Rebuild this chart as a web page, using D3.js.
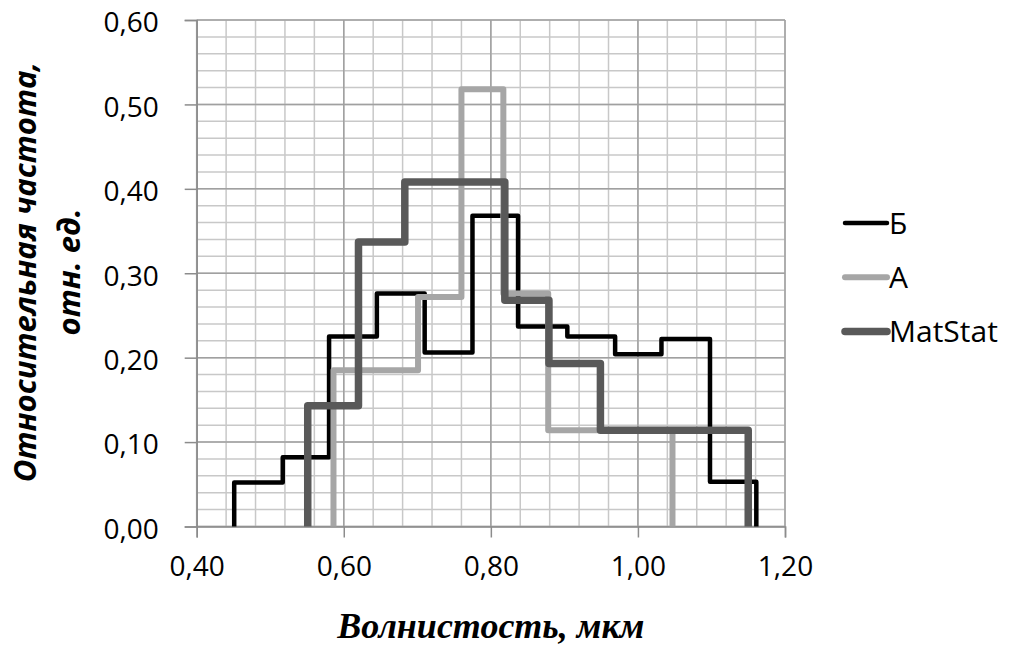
<!DOCTYPE html>
<html>
<head>
<meta charset="utf-8">
<script src="https://cdn.jsdelivr.net/npm/d3@7"></script>
<style>
  body { margin: 0; background: #fff; }
  svg { display: block; }
</style>
</head>
<body>
<div id="chart"></div>
<script>
// bin edges and relative frequencies
var edgesB = [0.451, 0.517, 0.580, 0.645, 0.710, 0.775, 0.837, 0.904, 0.969, 1.032, 1.098, 1.161];
var valuesB = [0.052, 0.082, 0.225, 0.276, 0.206, 0.368, 0.237, 0.225, 0.204, 0.222, 0.053];

var edgesA = [0.586, 0.701, 0.760, 0.817, 0.878, 1.047];
var valuesA = [0.185, 0.272, 0.518, 0.276, 0.114];

var edgesM = [0.551, 0.620, 0.683, 0.819, 0.879, 0.949, 1.150];
var valuesM = [0.143, 0.337, 0.408, 0.268, 0.193, 0.114];

var seriesNames = ["Б", "A", "MatStat"];
var xTicks = [0.4, 0.6, 0.8, 1.0, 1.2];
var yTicks = [0, 0.1, 0.2, 0.3, 0.4, 0.5, 0.6];

var width = 1010, height = 656;
var margin = {left: 196.7, right: 225, top: 20, bottom: 129.5};

var svg = d3.select("#chart").append("svg")
    .attr("width", width)
    .attr("height", height);

var x = d3.scaleLinear().domain([0.4, 1.2]).range([margin.left, width - margin.right]);
var y = d3.scaleLinear().domain([0, 0.6]).range([height - margin.bottom, margin.top]);

var fmt = function(d) { return d3.format(".2f")(d).replace(".", ","); };

// minor grid
var minorX = d3.range(0.4, 1.2001, 0.04);
var minorY = d3.range(0, 0.6001, 0.02);

svg.append("g").selectAll("line")
    .data(minorX)
  .enter().append("line")
    .attr("x1", function(d) { return x(d); })
    .attr("x2", function(d) { return x(d); })
    .attr("y1", y(0)).attr("y2", y(0.6))
    .attr("stroke", "#c8c8c8").attr("stroke-width", 1.5);

svg.append("g").selectAll("line")
    .data(minorY)
  .enter().append("line")
    .attr("y1", function(d) { return y(d); })
    .attr("y2", function(d) { return y(d); })
    .attr("x1", x(0.4)).attr("x2", x(1.2))
    .attr("stroke", "#c8c8c8").attr("stroke-width", 1.5);

// major grid
svg.append("g").selectAll("line")
    .data(xTicks)
  .enter().append("line")
    .attr("x1", function(d) { return x(d); })
    .attr("x2", function(d) { return x(d); })
    .attr("y1", y(0)).attr("y2", y(0.6))
    .attr("stroke", "#a0a0a0").attr("stroke-width", 1.5);

svg.append("g").selectAll("line")
    .data(yTicks)
  .enter().append("line")
    .attr("y1", function(d) { return y(d); })
    .attr("y2", function(d) { return y(d); })
    .attr("x1", x(0.4)).attr("x2", x(1.2))
    .attr("stroke", "#a0a0a0").attr("stroke-width", 1.5);

// axes
var xAxis = svg.append("g")
    .attr("transform", "translate(0," + y(0) + ")")
    .call(d3.axisBottom(x).tickValues(xTicks).tickSize(11).tickFormat(fmt));

var yAxis = svg.append("g")
    .attr("transform", "translate(" + x(0.4) + ",0)")
    .call(d3.axisLeft(y).tickValues(yTicks).tickSize(12).tickFormat(fmt));

[xAxis, yAxis].forEach(function(ax) {
  ax.select(".domain").attr("stroke", "#8c8c8c").attr("stroke-width", 1.5);
  ax.selectAll(".tick line").attr("stroke", "#8c8c8c").attr("stroke-width", 1.5);
  ax.selectAll(".tick text")
    .style("font-family", "'Open Sans', sans-serif")
    .style("font-size", "28px")
    .attr("fill", "#000");
});

xAxis.selectAll(".tick text").attr("y", 30).attr("dy", "0.71em");
yAxis.selectAll(".tick text").attr("x", -38).attr("dy", "0.42em");

// step lines
var stepPoints = function(edges, values) {
  var pts = [[edges[0], 0]];
  values.forEach(function(v, i) {
    pts.push([edges[i], v]);
    pts.push([edges[i + 1], v]);
  });
  pts.push([edges[edges.length - 1], 0]);
  return pts;
};

var line = d3.line()
    .x(function(d) { return x(d[0]); })
    .y(function(d) { return y(d[1]); });

var color = d3.scaleOrdinal().domain(seriesNames).range(["#000000", "#a6a6a6", "#595959"]);
var widths = {"Б": 4.5, "A": 6, "MatStat": 7.5};

var series = [
  {name: "Б", pts: stepPoints(edgesB, valuesB)},
  {name: "A", pts: stepPoints(edgesA, valuesA)},
  {name: "MatStat", pts: stepPoints(edgesM, valuesM)}
];

svg.append("g").selectAll("path")
    .data(series)
  .enter().append("path")
    .attr("d", function(d) { return line(d.pts); })
    .attr("fill", "none")
    .attr("stroke", function(d) { return color(d.name); })
    .attr("stroke-width", function(d) { return widths[d.name]; })
    .attr("stroke-linejoin", "round");

// legend
var legend = svg.append("g")
    .attr("transform", "translate(845,223)");

var item = legend.selectAll(".item")
    .data(seriesNames)
  .enter().append("g")
    .attr("class", "item")
    .attr("transform", function(d, i) { return "translate(0," + (i * 54.2) + ")"; });

item.append("line")
    .attr("x1", 0).attr("x2", 42)
    .attr("stroke", function(d) { return color(d); })
    .attr("stroke-width", function(d) { return widths[d]; })
    .attr("stroke-linecap", "round");

item.append("text")
    .attr("x", 44)
    .attr("dy", "0.36em")
    .style("font-family", "'Open Sans', sans-serif")
    .style("font-size", "30px")
    .text(function(d) { return d; });

// axis titles
svg.append("text")
    .attr("x", (x(0.4) + x(1.2)) / 2)
    .attr("y", 638)
    .attr("text-anchor", "middle")
    .style("font-family", "'Liberation Serif', serif")
    .style("font-weight", "bold")
    .style("font-style", "italic")
    .style("font-size", "36px")
    .text("Волнистость, мкм");

var yTitle = svg.append("text")
    .attr("transform", "translate(36,272) rotate(-90)")
    .attr("text-anchor", "middle")
    .style("font-family", "'Open Sans', sans-serif")
    .style("font-weight", "bold")
    .style("font-style", "italic")
    .style("font-size", "31px");

yTitle.append("tspan").attr("x", 0).attr("y", 0).text("Относительная частота,");
yTitle.append("tspan").attr("x", 0).attr("y", 44).text("отн. ед.");
</script>
</body>
</html>
